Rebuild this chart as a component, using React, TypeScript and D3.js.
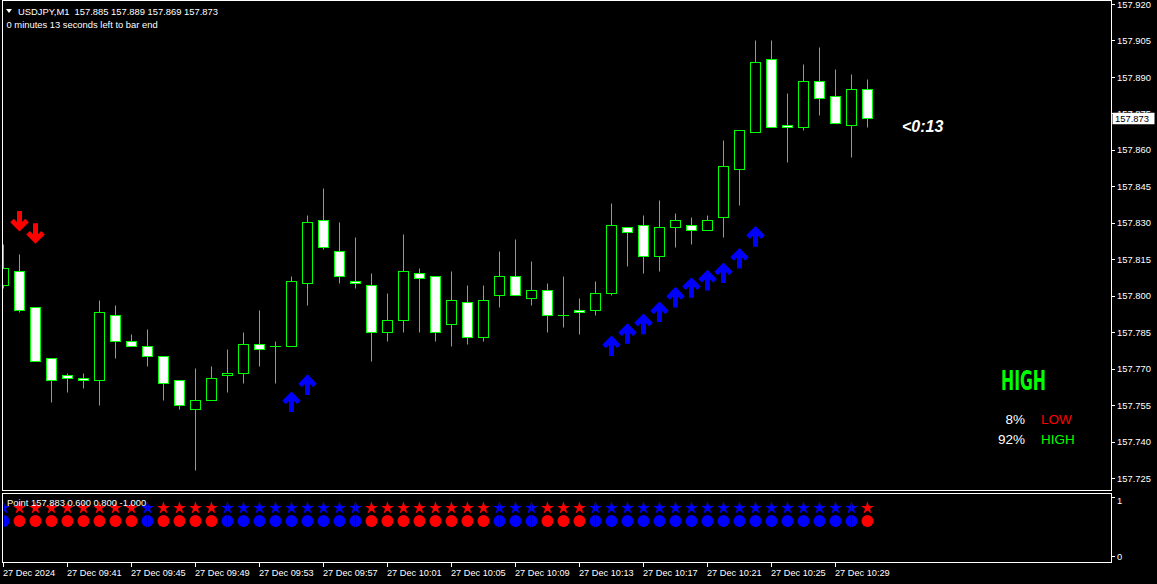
import React from "react";
import * as d3 from "d3";

// ---- data ----
const symbolTitle = "USDJPY,M1\u00a0\u00a0157.885 157.889 157.869 157.873";
const subtitle = "0 minutes 13 seconds left to bar end";

const opens = [157.804,157.810,157.795,157.774,157.767,157.766,157.765,157.792,157.781,157.779,157.775,157.765,157.753,157.757,157.767,157.768,157.780,157.779,157.779,157.805,157.831,157.818,157.806,157.804,157.785,157.790,157.809,157.808,157.788,157.797,157.783,157.800,157.808,157.799,157.802,157.792,157.794,157.794,157.801,157.828,157.829,157.816,157.828,157.829,157.827,157.832,157.852,157.867,157.897,157.870,157.869,157.888,157.882,157.870,157.885];
const highs = [157.821,157.817,157.795,157.774,157.768,157.768,157.798,157.796,157.784,157.786,157.775,157.765,157.770,157.771,157.778,157.785,157.794,157.781,157.808,157.833,157.844,157.830,157.824,157.809,157.801,157.825,157.811,157.808,157.810,157.804,157.804,157.818,157.823,157.814,157.805,157.808,157.799,157.806,157.838,157.828,157.833,157.839,157.834,157.832,157.833,157.864,157.868,157.905,157.905,157.883,157.895,157.902,157.893,157.891,157.889];
const lows = [157.803,157.793,157.773,157.756,157.760,157.762,157.755,157.774,157.779,157.771,157.757,157.753,157.728,157.757,157.760,157.764,157.771,157.764,157.779,157.796,157.819,157.805,157.803,157.773,157.781,157.785,157.785,157.781,157.779,157.780,157.781,157.795,157.800,157.796,157.785,157.787,157.784,157.792,157.800,157.812,157.809,157.810,157.820,157.821,157.827,157.824,157.837,157.867,157.869,157.855,157.868,157.874,157.871,157.857,157.869];
const closes = [157.811,157.794,157.773,157.765,157.766,157.765,157.793,157.781,157.779,157.775,157.764,157.755,157.757,157.766,157.768,157.780,157.778,157.779,157.806,157.830,157.820,157.808,157.805,157.785,157.790,157.810,157.807,157.785,157.798,157.783,157.798,157.808,157.800,157.802,157.792,157.792,157.793,157.801,157.829,157.826,157.816,157.828,157.831,157.827,157.831,157.853,157.868,157.896,157.869,157.869,157.888,157.881,157.871,157.885,157.873];

const upArrowIdx = [18,19,38,39,40,41,42,43,44,45,46,47];
const upArrowPrice = [157.760,157.767,157.783,157.788,157.792,157.797,157.803,157.807,157.810,157.813,157.819,157.828];
const downArrowIdx = [1,2];
const downArrowPrice = [157.827,157.822];

// indicator trend per bar: 1 = up (blue), -1 = down (red)
const trend = [1,-1,-1,-1,-1,-1,-1,-1,-1,1,-1,-1,-1,-1,1,1,1,1,1,1,1,1,1,-1,-1,-1,-1,-1,-1,-1,-1,1,1,1,-1,-1,-1,1,1,1,1,1,1,1,1,1,1,1,1,1,1,1,1,1,-1];
const starLevel = 0.8;
const circleLevel = 0.6;
const indicatorLabel = "Point 157.883 0.600 0.800 -1.000";

const priceTicks = [157.920,157.905,157.890,157.875,157.860,157.845,157.830,157.815,157.800,157.785,157.770,157.755,157.740,157.725];
const timeTickIdx = [0,4,8,12,16,20,24,28,32,36,40,44,48,52];
const timeTickLabels = ["27 Dec 2024","27 Dec 09:41","27 Dec 09:45","27 Dec 09:49","27 Dec 09:53","27 Dec 09:57","27 Dec 10:01","27 Dec 10:05","27 Dec 10:09","27 Dec 10:13","27 Dec 10:17","27 Dec 10:21","27 Dec 10:25","27 Dec 10:29"];
const lastPrice = 157.873;
const timerText = "<0:13";
const signalText = "HIGH";
const probValues = ["8%","92%"];
const probLabels = ["LOW","HIGH"];

const W = 1157, H = 584;
const LIME = "#00ff00";
const FONT = "'Liberation Sans', Arial, sans-serif";
const FS = 9.4;

export default function App() {
  const n = opens.length;
  const x = d3.scaleLinear().domain([0, n - 1]).range([3, 3 + 16 * (n - 1)]);
  const y = d3.scaleLinear().domain([157.725, 157.920]).range([478, 4]);
  const yi = d3.scaleLinear().domain([0, 1]).range([560, 495]);

  const left = 2.5, right = 1111.5, mainTop = 0.5, mainBottom = 490.5;
  const indTop = 493.5, indBottom = 562.5;

  const starPath = d3.symbol(d3.symbolStar, (6.8 * 6.8) / 0.8908130915292852)();
  const px = (v: number) => Math.round(v) + 0.5;

  const upArrow = (cx: number, ty: number) =>
    `M${cx},${ty + 2}L${cx},${ty + 19}M${cx - 7.5},${ty + 9.5}L${cx},${ty + 2}L${cx + 7.5},${ty + 9.5}`;
  const downArrow = (cx: number, by: number) =>
    `M${cx},${by - 2}L${cx},${by - 19}M${cx - 7.5},${by - 9.5}L${cx},${by - 2}L${cx + 7.5},${by - 9.5}`;

  return (
    <svg width={W} height={H} style={{ position: "fixed", left: 0, top: 0, background: "#000" }}
      fontFamily={FONT}>
      <defs>
        <clipPath id="mainClip"><rect x={3} y={1} width={1108} height={489} /></clipPath>
        <clipPath id="indClip"><rect x={3} y={494} width={1108} height={68} /></clipPath>
      </defs>
      <rect x={0} y={0} width={W} height={H} fill="#000" />

      {/* candles */}
      <g clipPath="url(#mainClip)">
        {opens.map((o, i) => {
          const c = closes[i];
          const cx = x(i);
          const yH = px(y(highs[i]) - 0.5), yL = px(y(lows[i]) - 0.5);
          const yO = px(y(o) - 0.5), yC = px(y(c) - 0.5);
          const top = Math.min(yO, yC), bot = Math.max(yO, yC);
          const bear = c < o;
          return (
            <g key={i}>
              <line x1={cx + 0.5} x2={cx + 0.5} y1={yH} y2={yL} stroke={LIME} strokeWidth={1} />
              {bot - top < 1 ? (
                <line x1={cx - 5} x2={cx + 6} y1={top} y2={top} stroke={LIME} strokeWidth={1} />
              ) : (
                <rect x={cx - 4.5} y={top} width={10} height={bot - top}
                  fill={bear ? "#fff" : "#000"} stroke={LIME} strokeWidth={1} />
              )}
            </g>
          );
        })}
        {upArrowIdx.map((idx, k) => (
          <path key={"u" + k} d={upArrow(x(idx) + 0.5, y(upArrowPrice[k]))} stroke="#0000ff"
            strokeWidth={5} fill="none" strokeLinejoin="miter" strokeLinecap="butt" />
        ))}
        {downArrowIdx.map((idx, k) => (
          <path key={"d" + k} d={downArrow(x(idx) + 0.5, y(downArrowPrice[k]))} stroke="#ff0000"
            strokeWidth={5} fill="none" strokeLinejoin="miter" strokeLinecap="butt" />
        ))}
      </g>

      {/* frames */}
      <rect x={left} y={mainTop} width={right - left} height={mainBottom - mainTop} fill="none" stroke="#fff" strokeWidth={1} />
      <rect x={left} y={indTop} width={right - left} height={indBottom - indTop} fill="none" stroke="#fff" strokeWidth={1} />

      {/* title */}
      <path d="M6,9L12,9L9,13Z" fill="#fff" />
      <text x={18} y={14.5} fontSize={FS} fill="#fff">{symbolTitle}</text>
      <text x={6.5} y={27.5} fontSize={FS} fill="#fff">{subtitle}</text>

      {/* price axis */}
      {priceTicks.map((p, i) => (
        <g key={"pt" + i}>
          <line x1={1112} x2={1115} y1={Math.round(y(p)) + 0.5} y2={Math.round(y(p)) + 0.5} stroke="#fff" />
          <text x={1117} y={y(p) + 3.6} fontSize={FS} fill="#fff">{p.toFixed(3)}</text>
        </g>
      ))}
      <rect x={1112.5} y={y(lastPrice) - 5.5} width={42} height={11.5} fill="#fff" />
      <text x={1115} y={y(lastPrice) + 3.6} fontSize={FS} fill="#000">{lastPrice.toFixed(3)}</text>

      {/* indicator axis */}
      <line x1={1112} x2={1115} y1={497.5} y2={497.5} stroke="#fff" />
      <text x={1117} y={503.5} fontSize={FS} fill="#fff">1</text>
      <line x1={1112} x2={1115} y1={556.5} y2={556.5} stroke="#fff" />
      <text x={1117} y={559.5} fontSize={FS} fill="#fff">0</text>

      {/* indicator markers */}
      <g clipPath="url(#indClip)">
        {trend.map((t, i) => {
          const col = t > 0 ? "#0000ff" : "#ff0000";
          const cx = x(i) + 0.5;
          const edge = t > 0 && ((i > 0 && trend[i - 1] < 0) || (i < n - 1 && trend[i + 1] < 0));
          return (
            <g key={"m" + i}>
              <path d={starPath} transform={`translate(${cx},${yi(starLevel)})`} fill={col} />
              <circle cx={cx} cy={yi(circleLevel)} r={6} fill={col} />
              {edge && (
                <line x1={cx} x2={cx} y1={yi(starLevel) - 4} y2={yi(circleLevel) + 6} stroke="#000" strokeWidth={1} />
              )}
            </g>
          );
        })}
      </g>
      <text x={7} y={505.5} fontSize={FS} fill="#fff">{indicatorLabel}</text>

      {/* time axis */}
      {timeTickIdx.map((idx, k) => (
        <g key={"tt" + k}>
          <line x1={x(idx) + 0.5} x2={x(idx) + 0.5} y1={563} y2={567} stroke="#fff" />
          <text x={x(idx)} y={576} fontSize={9.2} fill="#fff">{timeTickLabels[k]}</text>
        </g>
      ))}

      {/* overlays */}
      <text x={902} y={132} fontSize={16} fontWeight="bold" fontStyle="italic" fill="#fff">{timerText}</text>
      <text x={1001} y={390} fontSize={26} fontWeight="bold" fill={LIME} fontFamily="'DejaVu Sans', sans-serif"
        textLength={45} lengthAdjust="spacingAndGlyphs">{signalText}</text>
      {probValues.map((v, k) => (
        <g key={"pv" + k}>
          <text x={1025} y={423.5 + 20 * k} fontSize={13.5} fill="#fff" textAnchor="end">{v}</text>
          <text x={1041} y={423.5 + 20 * k} fontSize={13.5} fill={k === 0 ? "#ff0000" : LIME}>{probLabels[k]}</text>
        </g>
      ))}
    </svg>
  );
}
